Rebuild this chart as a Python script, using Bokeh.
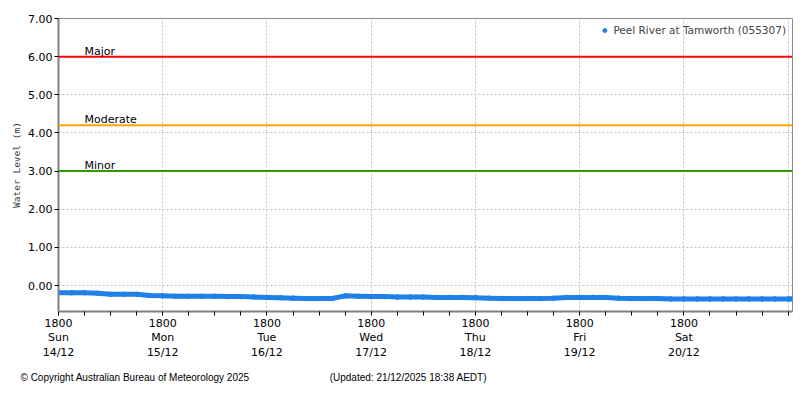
import pandas as pd
from bokeh.plotting import figure
from bokeh.models import (Range1d, FixedTicker, CustomJSTickFormatter, PrintfTickFormatter,
                          Span, Label, Legend, LegendItem, ColumnDataSource, Title)
from bokeh.embed import file_html
from bokeh.resources import INLINE

# ---------------- data ----------------
series_name = "Peel River at Tamworth (055307)"
start_time = "2025-12-14 18:00"
last_time = "2025-12-21 18:38"
# water level (m), read every 3 hours from 14/12 18:00 to 21/12 18:00, then the last reading
levels = [
    -0.19, -0.19, -0.19, -0.20, -0.23, -0.23, -0.23, -0.26,
    -0.27, -0.28, -0.28, -0.28, -0.28, -0.29, -0.29, -0.30,
    -0.31, -0.32, -0.33, -0.34, -0.34, -0.34, -0.27, -0.28,
    -0.29, -0.29, -0.30, -0.30, -0.30, -0.31, -0.31, -0.31,
    -0.32, -0.33, -0.34, -0.34, -0.34, -0.34, -0.33, -0.31,
    -0.31, -0.31, -0.31, -0.33, -0.34, -0.34, -0.34, -0.35,
    -0.35, -0.35, -0.35, -0.35, -0.35, -0.35, -0.35, -0.35,
    -0.35,
]
last_level = -0.35

threshold_names = ["Major", "Moderate", "Minor"]
threshold_levels = [6.00, 4.20, 3.00]
threshold_colors = ["#ff0000", "#ffa500", "#339900"]
threshold_label_time = "2025-12-15 00:00"

x_tick_times = ["2025-12-14 18:00", "2025-12-15 18:00", "2025-12-16 18:00", "2025-12-17 18:00",
                "2025-12-18 18:00", "2025-12-19 18:00", "2025-12-20 18:00", "2025-12-21 18:00"]
x_tick_labels = ["1800\nSun\n14/12", "1800\nMon\n15/12", "1800\nTue\n16/12", "1800\nWed\n17/12",
                 "1800\nThu\n18/12", "1800\nFri\n19/12", "1800\nSat\n20/12", ""]
y_ticks = [0, 1, 2, 3, 4, 5, 6, 7]
x_start = "2025-12-14 18:00"
x_end = "2025-12-21 19:00"
y_start, y_end = -0.68, 7.0

copyright_text = "\u00a9 Copyright Australian Bureau of Meteorology 2025"
updated_text = "(Updated: 21/12/2025 18:38 AEDT)"
y_label = "Water Level (m)"


def ms(t):
    return pd.Timestamp(t).value // 10**6


times = list(pd.date_range(start_time, periods=len(levels), freq="3h")) + [pd.Timestamp(last_time)]
vals = levels + [last_level]
src = ColumnDataSource(dict(t=[ts.value // 10**6 for ts in times], v=vals))

blue = "#1f80e8"
FONT = "DejaVu Sans"

p = figure(width=800, height=400, x_axis_type="datetime", output_backend="svg",
           toolbar_location=None, min_border_left=58, min_border_right=8,
           min_border_top=18, min_border_bottom=89,
           x_range=Range1d(ms(x_start), ms(x_end)), y_range=Range1d(y_start, y_end))

p.outline_line_color = "#8c8c8c"
p.outline_line_width = 1

# thresholds
for name, lvl, col in zip(threshold_names, threshold_levels, threshold_colors):
    p.add_layout(Span(location=lvl, dimension="width", line_color=col, line_width=2))
    p.add_layout(Label(x=ms(threshold_label_time), y=lvl, text=name, text_font=FONT,
                       text_font_size="11px", text_color="#000000", text_baseline="bottom",
                       y_offset=-1))

# data
p.line("t", "v", source=src, line_color=blue, line_width=5)
r = p.scatter("t", "v", source=src, size=4.5, marker="circle", fill_color=blue, line_color=blue)

legend = Legend(items=[LegendItem(label=series_name, renderers=[r])], location="top_right",
                border_line_color=None, background_fill_alpha=0, margin=6, padding=2,
                label_text_font=FONT, label_text_font_size="10.5px", glyph_width=10,
                glyph_height=12, label_height=12, label_standoff=4)
p.add_layout(legend)

# axes
tick_ms = [ms(t) for t in x_tick_times]
minor_ms = []
for a in tick_ms[:-1]:
    minor_ms += [a + h * 3600 * 1000 for h in (6, 12, 18)]
p.xaxis.ticker = FixedTicker(ticks=tick_ms, minor_ticks=minor_ms)
p.xaxis.formatter = CustomJSTickFormatter(args=dict(tvals=tick_ms, tlabels=x_tick_labels), code="""
    const i = tvals.indexOf(tick);
    return i >= 0 ? tlabels[i] : "";
""")
p.yaxis.ticker = FixedTicker(ticks=y_ticks)
p.yaxis.formatter = PrintfTickFormatter(format="%.2f")

for ax in (p.xaxis[0], p.yaxis[0]):
    ax.axis_line_color = "#808080"
    ax.axis_line_width = 2
    ax.major_tick_line_color = "#000000"
    ax.major_tick_in = 0
    ax.major_tick_out = 4
    ax.minor_tick_line_color = "#000000"
    ax.minor_tick_in = 0
    ax.minor_tick_out = 4
    ax.major_label_text_font = FONT
    ax.major_label_text_font_size = "11px"
    ax.major_label_text_color = "#000000"
p.yaxis.minor_tick_line_color = None
p.yaxis.major_label_standoff = 2
p.xaxis.major_label_standoff = 1
p.xaxis.major_label_text_line_height = 1.12
p.yaxis.axis_label = y_label
p.yaxis.axis_label_text_font = "DejaVu Sans Mono"
p.yaxis.axis_label_text_font_size = "9.5px"
p.yaxis.axis_label_text_font_style = "normal"
p.yaxis.axis_label_standoff = 3

# grid
for g in (p.xgrid[0], p.ygrid[0]):
    g.grid_line_color = "#c0c0c0"
    g.grid_line_dash = "2 2"
    g.grid_line_width = 1

# footer as a title below the axis
footer = copyright_text + "\u00a0" * 29 + updated_text
p.add_layout(Title(text=footer, align="left", offset=-38, standoff=17,
                   text_font="Liberation Sans", text_font_size="10px",
                   text_font_style="normal", text_color="#000000"), "below")

open("out.html", "w").write(file_html(p, INLINE))
